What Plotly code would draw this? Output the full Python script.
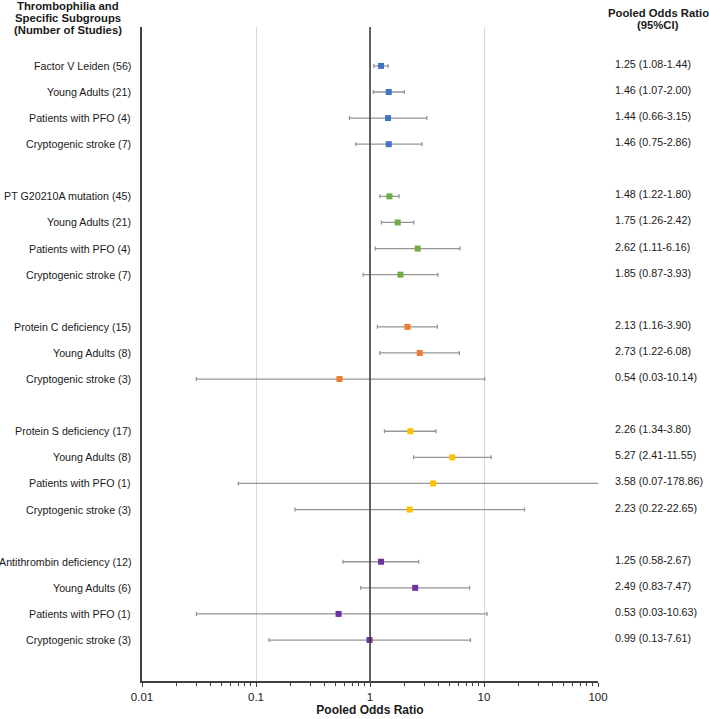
"""
Forest plot: thrombophilia and stroke subgroups, pooled odds ratios
"""

import plotly.graph_objects as go

# --- data -------------------------------------------------------------
group_labels = [
    ["Factor V Leiden (56)", "Young Adults (21)", "Patients with PFO (4)", "Cryptogenic stroke (7)"],
    ["PT G20210A mutation (45)", "Young Adults (21)", "Patients with PFO (4)", "Cryptogenic stroke (7)"],
    ["Protein C deficiency (15)", "Young Adults (8)", "Cryptogenic stroke (3)"],
    ["Protein S deficiency (17)", "Young Adults (8)", "Patients with PFO (1)", "Cryptogenic stroke (3)"],
    ["Antithrombin deficiency (12)", "Young Adults (6)", "Patients with PFO (1)", "Cryptogenic stroke (3)"],
]
group_or = [
    [1.25, 1.46, 1.44, 1.46],
    [1.48, 1.75, 2.62, 1.85],
    [2.13, 2.73, 0.54],
    [2.26, 5.27, 3.58, 2.23],
    [1.25, 2.49, 0.53, 0.99],
]
group_lo = [
    [1.08, 1.07, 0.66, 0.75],
    [1.22, 1.26, 1.11, 0.87],
    [1.16, 1.22, 0.03],
    [1.34, 2.41, 0.07, 0.22],
    [0.58, 0.83, 0.03, 0.13],
]
group_hi = [
    [1.44, 2.00, 3.15, 2.86],
    [1.80, 2.42, 6.16, 3.93],
    [3.90, 6.08, 10.14],
    [3.80, 11.55, 178.86, 22.65],
    [2.67, 7.47, 10.63, 7.61],
]
group_colors = ["#4472C4", "#70AD47", "#ED7D31", "#FFC000", "#7030A0"]
tick_vals = [0.01, 0.1, 1, 10, 100]
tick_text = ["0.01", "0.1", "1", "10", "100"]
left_header = ["Thrombophilia and", "Specific Subgroups", "(Number of Studies)"]
right_header = ["Pooled Odds Ratio", "(95%CI)"]
NULL_OR = 1

FONT = "Liberation Sans, Arial, sans-serif"
TEXT_COLOR = "#1a1a1a"
LABEL_SIZE = 10.7

fig = go.Figure()

# Rows are laid out top-down with one blank row between groups
row = 0
n_rows = 0
for g, labels in enumerate(group_labels):
    ys = list(range(row, row + len(labels)))
    est = group_or[g]
    lo = group_lo[g]
    hi = group_hi[g]
    fig.add_trace(go.Scatter(
        x=est,
        y=ys,
        mode="markers",
        marker=dict(symbol="square", size=6, color=group_colors[g]),
        error_x=dict(
            type="data",
            symmetric=False,
            array=[h - e for h, e in zip(hi, est)],
            arrayminus=[e - l for e, l in zip(est, lo)],
            color="#969696",
            thickness=1.3,
            width=2,
        ),
        showlegend=False,
        hoverinfo="skip",
    ))

    for y, label, e, l, h in zip(ys, labels, est, lo, hi):
        # Subgroup label on the left
        fig.add_annotation(
            x=0, xref="paper", y=y, yref="y",
            text=label, showarrow=False,
            xanchor="right", xshift=-9,
            font=dict(family=FONT, size=LABEL_SIZE, color=TEXT_COLOR),
        )
        # Pooled OR (95% CI) on the right
        fig.add_annotation(
            x=1, xref="paper", y=y, yref="y",
            text=f"{e:.2f} ({l:.2f}-{h:.2f})", showarrow=False,
            xanchor="left", xshift=15, yshift=2,
            font=dict(family=FONT, size=LABEL_SIZE, color=TEXT_COLOR),
        )
    row += len(labels) + 1
    n_rows = ys[-1]

# Reference line at OR = 1
fig.add_vline(x=NULL_OR, line=dict(color="#404040", width=1.6), layer="above")

# Column headers, one annotation per line to keep the tight line spacing
for i, line in enumerate(left_header):
    fig.add_annotation(
        x=0, xref="paper", y=1.0, yref="paper", yanchor="middle",
        xshift=-74, yshift=21 - 12 * i,
        text=f"<b>{line}</b>", showarrow=False, xanchor="center",
        font=dict(family=FONT, size=11.3, color=TEXT_COLOR),
    )
for i, line in enumerate(right_header):
    fig.add_annotation(
        x=1, xref="paper", y=1.0, yref="paper", yanchor="middle",
        xshift=60, yshift=14 - 12 * i,
        text=f"<b>{line}</b>", showarrow=False, xanchor="center",
        font=dict(family=FONT, size=11.3, color=TEXT_COLOR),
    )

fig.update_layout(
    width=709,
    height=719,
    margin=dict(l=142, r=111, t=27, b=38),
    paper_bgcolor="white",
    plot_bgcolor="white",
    font=dict(family=FONT, size=12, color=TEXT_COLOR),
    xaxis=dict(
        type="log",
        range=[-2, 2],
        tickvals=tick_vals,
        ticktext=tick_text,
        automargin=False,
        showgrid=True,
        gridcolor="#d9d9d9",
        gridwidth=1,
        showline=True,
        linecolor="#404040",
        linewidth=1.5,
        ticks="outside",
        ticklen=4,
        tickcolor="#404040",
        minor=dict(ticks="outside", ticklen=3, dtick="D1",
                   tickcolor="#404040", showgrid=False),
        zeroline=False,
        title=dict(text="<b>Pooled Odds Ratio</b>", standoff=2,
                   font=dict(family=FONT, size=12, color=TEXT_COLOR)),
        tickfont=dict(family=FONT, size=11.5, color=TEXT_COLOR),
    ),
    yaxis=dict(
        range=[n_rows + 1.57, -1.49],
        automargin=False,
        showticklabels=False,
        showgrid=False,
        zeroline=False,
        showline=True,
        linecolor="#404040",
        linewidth=1.5,
        ticks="",
    ),
)

# drop the default page margin so the figure sits at the window's top-left
fig.write_html(
    "out.html",
    config={"displayModeBar": False},
    post_script="document.body.style.margin = '0';",
)
